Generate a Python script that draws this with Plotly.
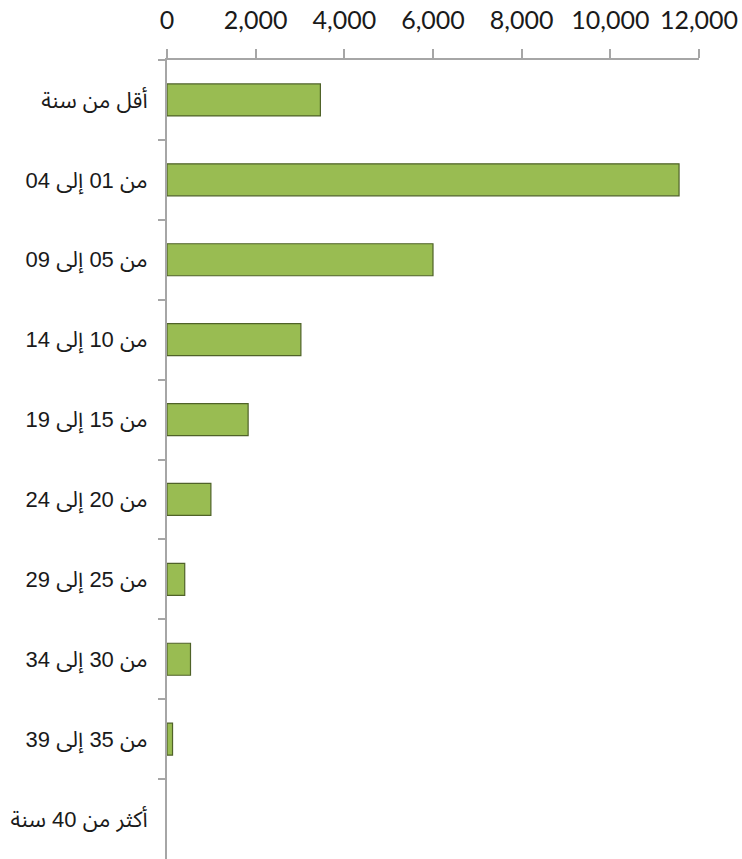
import plotly.graph_objects as go

categories = ["أقل من سنة", "من 01 إلى 04", "من 05 إلى 09", "من 10 إلى 14", "من 15 إلى 19",
              "من 20 إلى 24", "من 25 إلى 29", "من 30 إلى 34", "من 35 إلى 39", "أكثر من 40 سنة"]
values = [3460, 11550, 6000, 3020, 1830, 990, 400, 530, 125, 0]
x_ticks = [0, 2000, 4000, 6000, 8000, 10000, 12000]
x_tick_labels = ["0", "2,000", "4,000", "6,000", "8,000", "10,000", "12,000"]

line_widths = [1.2 if v > 0 else 0 for v in values]

fig = go.Figure(go.Bar(
    x=values, y=categories, orientation="h",
    marker=dict(color="#99BC52", line=dict(color="#4F6228", width=line_widths)),
    width=0.4,
))

fig.update_layout(
    width=742, height=859,
    margin=dict(l=167, r=43, t=60, b=0),
    paper_bgcolor="white", plot_bgcolor="white",
    showlegend=False,
)
fig.update_xaxes(
    side="top", range=[0, 12000], tickvals=x_ticks, ticktext=x_tick_labels,
    automargin=False,
    showgrid=False, zeroline=False,
    showline=True, linecolor="#A6A6A6", linewidth=2,
    ticks="outside", ticklen=9, tickcolor="#A6A6A6", tickwidth=2,
    tickfont=dict(family="Lato", size=25, color="#1a1a1a"),
    ticklabelstandoff=10,
)
fig.update_yaxes(
    categoryorder="array", categoryarray=categories, autorange="reversed",
    automargin=False,
    showgrid=False, zeroline=False,
    showline=True, linecolor="#A6A6A6", linewidth=2,
    ticks="outside", tickson="boundaries", ticklen=7, tickcolor="#A6A6A6", tickwidth=2,
    tickfont=dict(family="Liberation Sans, Noto Sans Arabic, DejaVu Sans", size=22, color="#1a1a1a"),
    ticklabelstandoff=13,
)

fig.write_html("out.html",
               config={"displayModeBar": False},
               post_script="document.body.style.margin='0';document.body.style.overflow='hidden';")
